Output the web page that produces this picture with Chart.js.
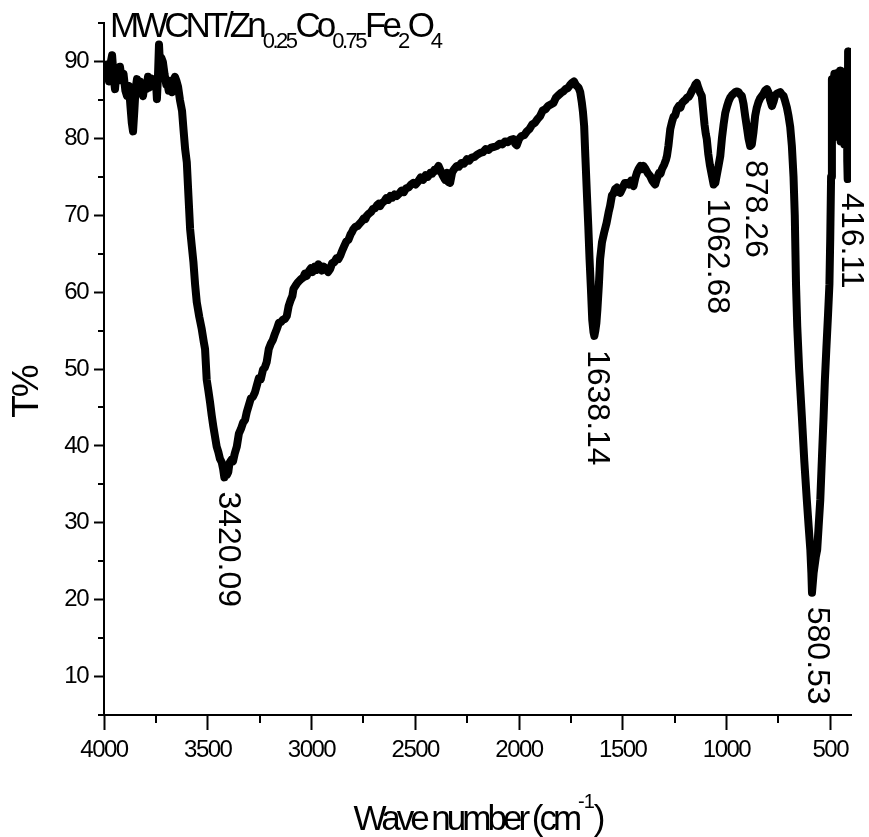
<!DOCTYPE html>
<html>
<head>
<meta charset="utf-8">
<script src="https://cdn.jsdelivr.net/npm/chart.js@4.4.1/dist/chart.umd.min.js"></script>
<style>
  html, body { margin: 0; padding: 0; background: #fff; }
  #wrap { width: 869px; height: 837px; }
</style>
</head>
<body>
<div id="wrap"><canvas id="ftir"></canvas></div>
<script>
// FTIR spectrum: wave number (cm-1) -> T%
const waveNumber = [
  4000, 3992, 3985, 3976, 3968, 3961, 3954, 3947, 3940, 3932, 3923, 3915, 3906, 3897, 3889, 3880,
  3872, 3866, 3860, 3854, 3848, 3841, 3834, 3826, 3819, 3812, 3805, 3796, 3788, 3780, 3772, 3764,
  3756, 3750, 3745, 3740, 3735, 3730, 3724, 3716, 3708, 3700, 3696, 3688, 3680, 3672, 3665, 3658,
  3650, 3643, 3634, 3624, 3617, 3609, 3601, 3593, 3585, 3577, 3569, 3561, 3553, 3541, 3529, 3519,
  3513, 3505, 3497, 3489, 3481, 3473, 3465, 3457, 3449, 3441, 3433, 3426, 3420, 3414, 3408, 3401,
  3395, 3386, 3378, 3370, 3360, 3350, 3340, 3330, 3320, 3312, 3302, 3292, 3282, 3272, 3264, 3254,
  3244, 3234, 3225, 3216, 3206, 3196, 3186, 3176, 3167, 3157, 3147, 3138, 3128, 3119, 3110, 3100,
  3092, 3087, 3078, 3068, 3058, 3050, 3040, 3032, 3023, 3013, 3003, 2995, 2985, 2975, 2967, 2959,
  2950, 2940, 2930, 2920, 2910, 2900, 2890, 2880, 2870, 2862, 2852, 2842, 2832, 2822, 2812, 2805,
  2798, 2788, 2778, 2768, 2758, 2748, 2740, 2734, 2724, 2714, 2704, 2694, 2684, 2676, 2669, 2660,
  2650, 2640, 2630, 2620, 2610, 2600, 2589, 2578, 2566, 2555, 2544, 2532, 2520, 2509, 2498, 2486,
  2474, 2462, 2450, 2439, 2428, 2418, 2408, 2398, 2388, 2378, 2368, 2356, 2346, 2340, 2332, 2322,
  2312, 2300, 2290, 2278, 2265, 2251, 2240, 2228, 2214, 2200, 2187, 2174, 2160, 2147, 2134, 2120,
  2107, 2094, 2080, 2067, 2054, 2040, 2027, 2018, 2011, 2000, 1988, 1975, 1962, 1950, 1936, 1924,
  1911, 1898, 1886, 1872, 1860, 1847, 1834, 1822, 1810, 1798, 1786, 1776, 1766, 1755, 1745, 1735,
  1725, 1713, 1705, 1697, 1692, 1686, 1680, 1673, 1666, 1660, 1653, 1647, 1641, 1637, 1632, 1627,
  1622, 1615, 1609, 1600, 1590, 1578, 1568, 1561, 1552, 1545, 1537, 1528, 1520, 1512, 1500, 1490,
  1480, 1470, 1460, 1448, 1440, 1432, 1424, 1415, 1408, 1400, 1390, 1380, 1368, 1358, 1350, 1344,
  1335, 1325, 1318, 1311, 1300, 1292, 1287, 1280, 1271, 1262, 1255, 1247, 1239, 1230, 1222, 1214,
  1207, 1198, 1190, 1182, 1175, 1166, 1158, 1150, 1143, 1136, 1128, 1119, 1112, 1106, 1100, 1095,
  1088, 1080, 1070, 1062, 1054, 1045, 1038, 1030, 1022, 1014, 1006, 997, 990, 982, 974, 966,
  958, 950, 942, 934, 926, 918, 910, 902, 894, 886, 878, 870, 862, 854, 846, 838,
  830, 822, 814, 805, 798, 790, 781, 773, 765, 757, 749, 741, 733, 725, 717, 709,
  701, 693, 685, 677, 671, 665, 659, 650, 637, 625, 613, 604, 596, 591, 588, 580,
  570, 563, 556, 548, 540, 532, 526, 519, 511, 504, 500, 496, 492, 489, 486, 483,
  480, 477, 474, 471, 468, 465, 462, 459, 456, 453, 450, 447, 444, 441, 438, 435,
  432, 429, 426, 423, 420, 418, 416, 414, 412, 410, 408
];
const transmittance = [
  89.2, 88.0, 89.6, 87.4, 89.8, 90.8, 88.2, 86.4, 88.6, 87.5, 89.3, 87.8, 88.4, 86.2, 85.5, 86.8,
  84.0, 82.0, 80.9, 83.5, 86.4, 87.7, 86.0, 87.4, 86.2, 85.5, 87.0, 86.4, 88.0, 86.6, 87.8, 87.3,
  86.8, 87.6, 85.1, 88.0, 92.2, 89.5, 90.5, 89.9, 88.3, 87.0, 87.3, 86.2, 87.5, 86.0, 87.4, 88.0,
  87.4, 86.7, 85.0, 83.6, 81.2, 78.6, 76.9, 72.5, 68.2, 66.0, 63.9, 61.0, 58.7, 56.8, 55.2, 53.5,
  52.6, 48.6, 47.2, 45.7, 44.0, 42.5, 41.2, 39.9, 39.2, 38.3, 37.9, 37.0, 35.9, 37.2, 36.2, 36.6,
  37.8, 38.2, 38.0, 39.0, 39.9, 41.6, 42.2, 43.0, 43.4, 44.4, 45.3, 46.2, 46.4, 47.0, 47.8, 48.8,
  48.7, 49.9, 50.2, 50.9, 52.6, 53.3, 53.8, 54.6, 55.2, 56.0, 56.1, 56.4, 56.5, 56.9, 58.2, 59.0,
  59.5, 60.4, 60.8, 61.2, 61.5, 61.7, 61.9, 62.4, 62.1, 62.7, 63.1, 62.6, 63.3, 62.9, 63.6, 63.4,
  62.8, 63.3, 63.0, 62.6, 63.0, 63.8, 63.9, 64.4, 64.3, 64.7, 65.4, 66.0, 66.6, 66.8, 67.5, 67.8,
  68.2, 68.5, 68.6, 68.9, 69.2, 69.6, 69.5, 69.9, 70.2, 70.4, 70.8, 70.9, 71.3, 71.5, 71.2, 71.6,
  71.8, 72.2, 72.0, 72.5, 72.3, 72.7, 72.5, 72.8, 73.2, 73.0, 73.5, 73.6, 74.0, 74.2, 74.0, 74.4,
  74.9, 74.6, 75.2, 75.0, 75.5, 75.4, 75.9, 75.8, 76.4, 75.8, 75.2, 74.6, 75.5, 74.3, 74.2, 75.6,
  76.0, 76.4, 76.3, 76.8, 76.7, 77.3, 77.1, 77.5, 77.6, 77.9, 78.1, 78.2, 78.6, 78.5, 78.8, 78.9,
  79.0, 79.3, 79.2, 79.6, 79.5, 79.8, 79.9, 79.3, 79.1, 79.9, 80.3, 80.4, 80.9, 81.2, 81.8, 82.0,
  82.5, 82.9, 83.6, 83.8, 84.2, 84.4, 84.6, 85.3, 85.6, 85.9, 86.1, 86.4, 86.5, 86.9, 87.2, 87.4,
  86.9, 86.6, 86.0, 84.6, 83.5, 81.6, 77.5, 72.9, 68.5, 64.3, 60.2, 56.4, 54.8, 54.3, 55.0, 56.0,
  57.8, 61.0, 64.3, 66.5, 67.7, 69.0, 70.4, 71.2, 72.6, 72.8, 73.4, 73.6, 73.0, 72.9, 73.6, 74.2,
  74.2, 74.0, 74.5, 73.8, 74.8, 75.5, 76.0, 76.4, 76.0, 76.4, 76.0, 75.5, 75.1, 74.5, 74.2, 74.0,
  74.8, 75.5, 75.4, 76.0, 76.6, 77.2, 77.7, 79.0, 81.2, 82.2, 82.8, 83.0, 83.8, 84.2, 84.0, 84.6,
  84.8, 85.0, 85.3, 85.4, 85.7, 86.2, 86.5, 87.0, 87.2, 86.6, 86.0, 85.5, 83.5, 81.8, 80.6, 79.9,
  78.0, 76.5, 75.1, 74.0, 74.2, 75.5, 76.5, 77.7, 80.0, 81.8, 83.3, 84.2, 84.8, 85.3, 85.6, 85.8,
  86.0, 86.1, 86.0, 85.7, 85.5, 84.5, 82.9, 81.5, 80.0, 79.0, 79.2, 80.8, 82.9, 84.0, 84.7, 85.2,
  85.5, 85.8, 86.2, 86.4, 86.0, 85.0, 84.2, 84.8, 85.6, 85.8, 85.9, 86.0, 85.7, 85.5, 84.8, 84.0,
  82.9, 81.5, 79.0, 75.0, 70.0, 61.0, 55.5, 50.0, 43.9, 38.0, 33.0, 29.5, 26.5, 23.5, 20.9, 23.5,
  25.5, 26.5, 29.5, 33.0, 38.5, 43.9, 48.5, 52.5, 56.9, 61.0, 67.0, 75.0, 87.7, 86.8, 80.5, 87.6,
  88.4, 81.2, 87.9, 85.0, 80.2, 88.5, 86.0, 81.8, 87.0, 88.8, 79.6, 85.2, 88.4, 80.4, 87.0, 84.0,
  79.2, 88.0, 81.0, 86.5, 88.6, 77.0, 74.7, 91.3, 84.0, 80.5, 87.0
];

// labelled band positions and the T% of their minima
const peakWave = [3420.09, 1638.14, 1062.68, 878.26, 580.53, 416.11];
const peakT = [35.9, 54.3, 74.0, 79.0, 20.9, 74.7];

const xTicks = [4000, 3500, 3000, 2500, 2000, 1500, 1000, 500];
const xMinorTicks = [3750, 3250, 2750, 2250, 1750, 1250, 750];
const yTicks = [10, 20, 30, 40, 50, 60, 70, 80, 90];
const yMinorTicks = [5, 15, 25, 35, 45, 55, 65, 75, 85, 95];

const titleParts = [
  { t: 'MWCNT/Zn' }, { t: '0.25', sub: true }, { t: 'Co' }, { t: '0.75', sub: true },
  { t: 'Fe' }, { t: '2', sub: true }, { t: 'O' }, { t: '4', sub: true }
];
const xTitleParts = [{ t: 'Wave number (cm' }, { t: '-1', sup: true }, { t: ')' }];

const FONT = "'Liberation Sans', Arial, sans-serif";
const INK = '#000';

function partWidth(ctx, p, size, ls) {
  ctx.font = `${size}px ${FONT}`;
  ctx.letterSpacing = '0px';
  return ctx.measureText(p.t).width + p.t.length * ls;
}

// draws a run of text with sub/superscripts, starting at x on baseline y
function drawRich(ctx, parts, x, y, big, small, lsBig, lsSmall, shift) {
  let cx = x;
  parts.forEach(p => {
    const isSmall = p.sub || p.sup;
    const size = isSmall ? small : big;
    const ls = isSmall ? lsSmall : lsBig;
    const w = partWidth(ctx, p, size, ls);
    ctx.font = `${size}px ${FONT}`;
    ctx.letterSpacing = ls + 'px';
    const dy = p.sub ? shift.sub : (p.sup ? shift.sup : 0);
    ctx.fillText(p.t, cx, y + dy);
    cx += w;
  });
  return cx - x;
}

function richWidth(ctx, parts, big, small, lsBig, lsSmall) {
  return parts.reduce((s, p) => {
    const isSmall = p.sub || p.sup;
    return s + partWidth(ctx, p, isSmall ? small : big, isSmall ? lsSmall : lsBig);
  }, 0);
}

const textPlugin = {
  id: 'ftirText',
  beforeDraw(chart) {
    chart.ctx.letterSpacing = '-1.5px';
  },
  afterDraw(chart) {
    const { ctx, chartArea: area, scales: { x, y } } = chart;
    ctx.save();
    ctx.strokeStyle = INK;
    ctx.fillStyle = INK;
    ctx.lineWidth = 2;

    // minor ticks
    ctx.beginPath();
    yMinorTicks.forEach(v => {
      const py = Math.round(y.getPixelForValue(v));
      ctx.moveTo(area.left - 6, py);
      ctx.lineTo(area.left, py);
    });
    xMinorTicks.forEach(v => {
      const px = Math.round(x.getPixelForValue(v));
      ctx.moveTo(px, area.bottom);
      ctx.lineTo(px, area.bottom + 8);
    });
    ctx.stroke();

    // band labels, rotated to read downward
    ctx.font = `32px ${FONT}`;
    ctx.letterSpacing = '0px';
    ctx.textAlign = 'left';
    ctx.textBaseline = 'middle';
    peakWave.forEach((w, i) => {
      ctx.save();
      ctx.translate(x.getPixelForValue(w) + 3, y.getPixelForValue(peakT[i]) + 14);
      ctx.rotate(Math.PI / 2);
      ctx.fillText(w.toFixed(2), 0, 0);
      ctx.restore();
    });

    // sample name
    ctx.textBaseline = 'alphabetic';
    drawRich(ctx, titleParts, area.left + 6, 37, 35, 22, -4, -2.5, { sub: 11, sup: 0 });

    // x axis title, centred under the plot
    const xw = richWidth(ctx, xTitleParts, 35, 20, -4, -1);
    drawRich(ctx, xTitleParts, (area.left + area.right) / 2 - xw / 2, 830, 35, 20, -4, -1, { sub: 0, sup: -22 });

    // y axis title
    ctx.save();
    ctx.translate(28, 392);
    ctx.rotate(-Math.PI / 2);
    ctx.font = `37px ${FONT}`;
    ctx.letterSpacing = '-2px';
    ctx.textAlign = 'center';
    ctx.textBaseline = 'middle';
    ctx.fillText('T%', 0, 0);
    ctx.restore();

    ctx.restore();
  }
};

new Chart(document.getElementById('ftir'), {
  type: 'line',
  data: {
    datasets: [{
      data: waveNumber.map((w, i) => ({ x: w, y: transmittance[i] })),
      borderColor: INK,
      borderWidth: 8,
      borderJoinStyle: 'round',
      borderCapStyle: 'round',
      pointRadius: 0,
      tension: 0,
      fill: false
    }]
  },
  options: {
    responsive: true,
    maintainAspectRatio: false,
    animation: false,
    events: [],
    layout: { padding: { left: 0, top: 23, right: 18, bottom: 0 } },
    plugins: {
      legend: { display: false },
      tooltip: { enabled: false }
    },
    scales: {
      x: {
        type: 'linear',
        reverse: true,
        min: 400,
        max: 4000,
        afterBuildTicks: s => { s.ticks = xTicks.map(v => ({ value: v })); },
        afterFit: s => { s.height = 122; },
        border: { display: true, color: INK, width: 2 },
        grid: { drawOnChartArea: false, drawTicks: true, tickLength: 15, tickColor: INK, tickWidth: 2 },
        ticks: {
          color: INK,
          padding: 6,
          maxRotation: 0,
          autoSkip: false,
          font: { family: FONT, size: 24 },
          callback: v => String(v)
        }
      },
      y: {
        min: 5,
        max: 95,
        afterBuildTicks: s => { s.ticks = yTicks.map(v => ({ value: v })); },
        afterFit: s => { s.width = 104; },
        border: { display: true, color: INK, width: 2 },
        grid: { drawOnChartArea: false, drawTicks: true, tickLength: 10, tickColor: INK, tickWidth: 2 },
        ticks: {
          color: INK,
          padding: 6,
          autoSkip: false,
          font: { family: FONT, size: 24 },
          callback: v => String(v)
        }
      }
    }
  },
  plugins: [textPlugin]
});
</script>
</body>
</html>
